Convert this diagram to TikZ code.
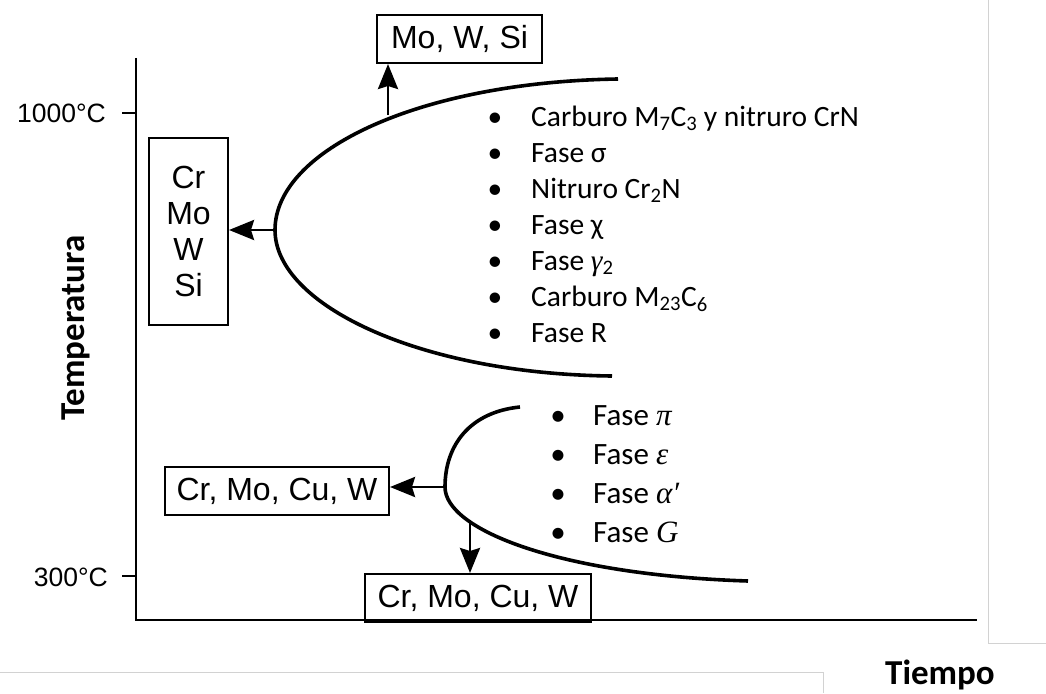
\documentclass[tikz,border=0pt]{standalone}
\usepackage{fontspec}
\setmainfont{Liberation Sans}
\newfontfamily\calib{Carlito}
\newfontfamily\grieg{Liberation Serif}
\newcommand{\gr}[1]{{\grieg\itshape #1}}
\usetikzlibrary{arrows.meta,positioning}

\begin{document}
\begin{tikzpicture}[
    x=1pt, y=-1pt,
    elembox/.style={draw, line width=2pt, inner sep=0pt, align=center, font=\fontsize{32}{36.3}\selectfont},
    curva/.style={line width=3.6pt},
    flecha/.style={line width=2.8pt, -{Stealth[length=25pt,width=20pt,inset=3pt]}},
    eje/.style={line width=2.8pt},
    tick/.style={anchor=east, inner sep=0pt, font=\fontsize{26.5}{30}\selectfont},
    fase/.style={anchor=base west, inner sep=0pt, font=\calib\fontsize{29.5}{34}\selectfont},
    faseb/.style={anchor=base west, inner sep=0pt, font=\calib\fontsize{31}{36}\selectfont},
    titulo/.style={inner sep=0pt, font=\calib\bfseries\fontsize{35}{40}\selectfont}
]
\useasboundingbox (0,0) rectangle (1046,693);

% page edges of the scan
\draw[gray!35, line width=1pt] (988,0) -- (988,643) -- (1046,643);
\draw[gray!35, line width=1pt] (0,672) -- (823,672) -- (823,693);

% axes
\coordinate (o) at (136,620);
\draw[eje] (136,58) -- (o) -- (977,620);
\draw[line width=2.2pt] (122,113) -- (136,113);
\draw[line width=2.2pt] (122,576) -- (136,576);
\node[tick] (t1000) at (106,113) {1000°C};
\node[tick] (t300) at (108,577) {300°C};
\node[titulo, rotate=90, anchor=base] (temp) at (84,328) {Temperatura};
\node[titulo, anchor=base] (tiempo) at (940,684) {Tiempo};

% upper C-curve
\coordinate (v1) at (275,230);
\coordinate (c1) at (388,115);
\draw[curva] (618,79) .. controls (420,82) and (275,150) .. (v1)
    .. controls (275,305) and (420,374) .. (612,376);

% lower C-curve
\coordinate (v2) at (445,487);
\coordinate (c2) at (470,523);
\draw[curva] (520,407) .. controls (470,412) and (445,445) .. (v2)
    .. controls (445,530) and (560,575) .. (748,581);

% element boxes
\node[elembox, minimum width=165pt, minimum height=48pt] (mows) at (459.5,39) {Mo, W, Si};
\node[elembox, minimum width=79pt, minimum height=187pt] (crmo) at (188.5,231.5) {Cr\\Mo\\W\\Si};
\node[elembox, minimum width=224pt, minimum height=48pt] (cucr) at (277,491) {Cr, Mo, Cu, W};
\node[elembox, minimum width=226pt, minimum height=48pt] (cucrb) at (478,598) {Cr, Mo, Cu, W};

% arrows
\draw[flecha] (c1) -- (mows.south -| c1);
\draw[flecha] (v1) -- (crmo.east |- v1);
\draw[flecha] (v2) -- (cucr.east |- v2);
\draw[flecha] (c2) -- (cucrb.north -| c2);

% phases, high temperature
\foreach \txt [count=\i from 0] in {{Carburo M\textsubscript{7}C\textsubscript{3} y nitruro CrN},
    {Fase σ}, {Nitruro Cr\textsubscript{2}N}, {Fase χ}, {Fase \gr{γ}\textsubscript{2}},
    {Carburo M\textsubscript{23}C\textsubscript{6}}, {Fase R}} {
  \node[fase] (fa\i) at (531,126+36*\i) {\txt};
  \node[fase, anchor=base] (ba\i) at (495,126+36*\i) {•};
}

% phases, low temperature
\foreach \txt [count=\i from 0] in {{Fase \gr{π}}, {Fase \gr{ε}}, {Fase \gr{α′}}, {Fase \gr{G}}} {
  \node[faseb] (fb\i) at (593,425+39*\i) {\txt};
  \node[faseb, anchor=base] (bb\i) at (558,425+39*\i) {•};
}

\end{tikzpicture}
\end{document}
